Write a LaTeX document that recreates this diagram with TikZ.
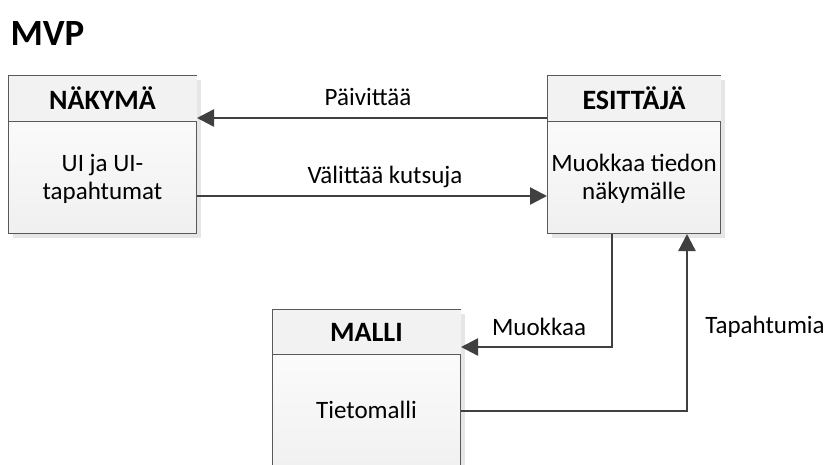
\documentclass[tikz,border=0pt]{standalone}
\usepackage{fontspec}
\setmainfont{Carlito}
\usetikzlibrary{arrows.meta,calc}
\definecolor{edge}{HTML}{595959}
\definecolor{wire}{HTML}{404040}
\definecolor{shadowgray}{HTML}{E6E6E6}
\tikzset{
  box/.style={draw=edge, line width=1pt, minimum width=#1, anchor=north west,
    top color=white, bottom color=gray!12, inner sep=0pt,
    preaction={fill=shadowgray, transform canvas={xshift=4pt,yshift=-4pt}}},
  head/.style={font=\fontsize{28}{32}\selectfont\bfseries},
  body/.style={font=\fontsize{25}{28}\selectfont, align=center},
  lbl/.style={font=\fontsize{25}{28}\selectfont},
  conn/.style={draw=wire, line width=2.4pt, -{Triangle[length=17pt,width=17pt]}}
}
\begin{document}
\begin{tikzpicture}[x=1pt,y=-1pt]
\useasboundingbox (0,0) rectangle (832,464);
\fill[white] (0,0) rectangle (832,464);
\node[font=\fontsize{37}{40}\selectfont\bfseries, anchor=west] (title) at (7,33) {MVP};

% boxes
\node[box=188pt, minimum height=158pt] (nk) at (8,75) {};
\node[box=173pt, minimum height=158pt] (es) at (547,75) {};
\node[box=188pt, minimum height=170pt] (ml) at (272,309) {};

% header bands and separators
\fill[gray!10] ($(nk.north west)+(0.5,0.5)$) rectangle ($(nk.north east)+(-0.5,46)$);
\fill[gray!10] ($(es.north west)+(0.5,0.5)$) rectangle ($(es.north east)+(-0.5,46)$);
\fill[gray!10] ($(ml.north west)+(0.5,0.5)$) rectangle ($(ml.north east)+(-0.5,45)$);
\draw[edge, line width=1pt] ($(nk.north west)+(0,46)$) -- ($(nk.north east)+(0,46)$);
\draw[edge, line width=1pt] ($(es.north west)+(0,46)$) -- ($(es.north east)+(0,46)$);
\draw[edge, line width=1pt] ($(ml.north west)+(0,45)$) -- ($(ml.north east)+(0,45)$);

% titles
\node[head] (nkh) at ($(nk.north)+(0,23)$) {NÄKYMÄ};
\node[head] (esh) at ($(es.north)+(0,23)$) {ESITTÄJÄ};
\node[head] (mlh) at ($(ml.north)+(0,23)$) {MALLI};

% contents
\node[body] (nkb) at ($(nk.north)+(0,104)$) {UI ja UI-\\tapahtumat};
\node[body] (esb) at ($(es.north)+(0,104)$) {Muokkaa tiedon\\näkymälle};
\node[body] (mlb) at ($(ml.north)+(0,101)$) {Tietomalli};

% connectors
\draw[conn] (es.west |- 0,118) -- (nk.east |- 0,118);
\draw[conn] (nk.east |- 0,196) -- (es.west |- 0,196);
\draw[conn] (es.south -| 612,0) |- (ml.east |- 0,347);
\draw[conn] (ml.east |- 0,411) -| (es.south -| 687,0);

% connector labels
\node[lbl] (l1) at (368,97) {Päivittää};
\node[lbl] (l2) at (385,177) {Välittää kutsuja};
\node[lbl] (l3) at (539,327) {Muokkaa};
\node[lbl] (l4) at (765,327) {Tapahtumia};
\end{tikzpicture}
\end{document}
